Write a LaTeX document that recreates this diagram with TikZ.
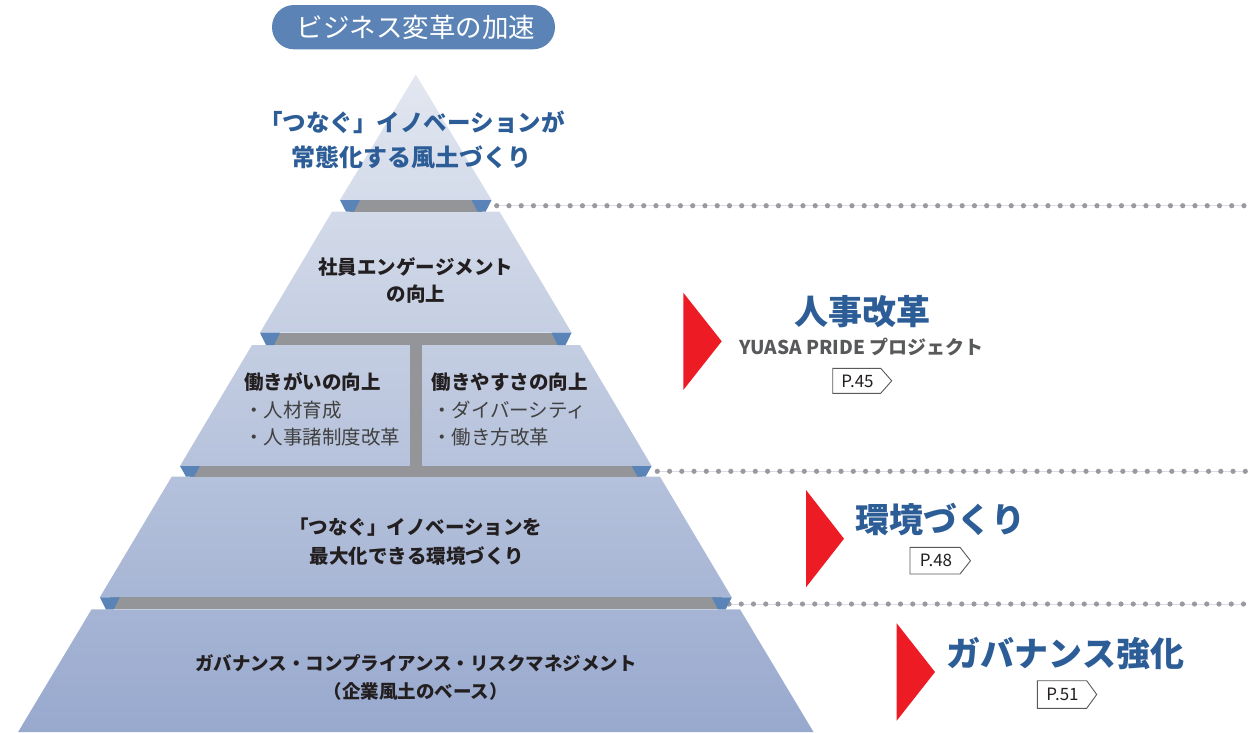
\documentclass[tikz,border=0pt]{standalone}
\usepackage{fontspec}
\setmainfont{Noto Sans CJK JP}
\definecolor{pillblue}{HTML}{5B83B5}
\definecolor{bandgray}{HTML}{939598}
\definecolor{edgeblue}{HTML}{5A84B8}
\definecolor{titleblue}{HTML}{2C5D97}
\definecolor{txtdark}{HTML}{231F20}
\definecolor{txtgray}{HTML}{404040}
\definecolor{subgray}{HTML}{58595B}
\definecolor{dotgray}{HTML}{9A9A9C}
\definecolor{dotline}{HTML}{D9DCEA}
\definecolor{markred}{HTML}{ED1C24}
\definecolor{pyrtop}{HTML}{E2E7F0}
\definecolor{pyrbot}{HTML}{98A9CE}
\newcommand\myfs[1]{\fontsize{#1pt}{#1pt}\selectfont}
\tikzset{
  txt/.style={inner sep=0pt, outer sep=0pt},
  lyhead/.style={txt, text=txtdark, font=\myfs{19.5}\bfseries},
  lyitem/.style={txt, text=txtgray, font=\myfs{19.5}},
  bigtitle/.style={txt, text=titleblue, font=\myfs{34}\bfseries},
  badge/.style={draw=subgray, line width=0.9pt, fill=white},
  badgetxt/.style={txt, text=txtdark, font=\myfs{17}},
  redmark/.style={fill=markred},
}
\begin{document}
\begin{tikzpicture}[x=1pt,y=-1pt]
\useasboundingbox (0,0) rectangle (1256,732);

% dotted guide lines (behind pyramid)
\foreach \sx/\sy/\n in {496.7/205.7/61, 657.3/471.3/48, 729/604/42} {
  \draw[dotline, line width=1pt] (\sx,\sy) -- ++(\n*12.25,0);
  \foreach \i in {0,...,\n} \fill[dotgray] (\sx+\i*12.25,\sy) circle (2.6pt);
}

% pyramid layers with one global gradient
\begin{scope}
\clip (415.8,74.5) -- (491.6,200) -- (340,200) -- cycle
      (332,211.7) -- (499.6,211.7) -- (571.6,332.7) -- (260,332.7) -- cycle
      (252,345) -- (580,345) -- (651.6,466) -- (180,466) -- cycle
      (171.7,476.7) -- (660,476.7) -- (731.7,597.3) -- (99.8,597.3) -- cycle
      (91.6,609.3) -- (740,609.3) -- (813.5,732) -- (18.1,732) -- cycle;
\shade[top color=pyrtop, bottom color=pyrbot] (0,74.5) rectangle (830,732);
\end{scope}

% separators
\foreach \ya/\yb/\h in {200/211.7/75.8, 332.7/345/155.8, 466/476.7/235.8, 597.3/609.3/316} {
  \fill[bandgray] (415.8-\h+10,\ya) rectangle (415.8+\h-10,\yb);
  \fill[edgeblue] (415.8-\h,\ya) -- (415.8-\h+20,\ya) -- (415.8-\h+14,\yb) -- (415.8-\h+6,\yb) -- cycle;
  \fill[edgeblue] (415.8+\h,\ya) -- (415.8+\h-20,\ya) -- (415.8+\h-14,\yb) -- (415.8+\h-6,\yb) -- cycle;
}
\fill[bandgray] (409.5,344) rectangle (421.5,467);

% top pill
\fill[pillblue, rounded corners=22pt] (272,5) rectangle (555,49.3);
\node[txt, text=white, font=\myfs{26.5}] (pill) at (416,27.5) {ビジネス変革の加速};

% layer 1
\node[txt, text=titleblue, font=\myfs{23.5}\bfseries] (l1a) at (412,122) {「つなぐ」イノベーションが};
\node[txt, text=titleblue, font=\myfs{24}\bfseries] (l1b) at (411.5,157) {常態化する風土づくり};

% layer 2
\node[lyhead] (l2a) at (415.8,267) {社員エンゲージメント};
\node[lyhead] (l2b) at (415.8,294.5) {の向上};

% layer 3
\node[lyhead, anchor=west] (l3lh) at (244,381.7) {働きがいの向上};
\node[lyitem, anchor=west] (l3l1) at (244,410) {・人材育成};
\node[lyitem, anchor=west] (l3l2) at (244,436.7) {・人事諸制度改革};
\node[lyhead, anchor=west] (l3rh) at (431.5,381.7) {働きやすさの向上};
\node[lyitem, anchor=west] (l3r1) at (432,410) {・ダイバーシティ};
\node[lyitem, anchor=west] (l3r2) at (432,436.7) {・働き方改革};

% layer 4
\node[lyhead] (l4a) at (415.8,527) {「つなぐ」イノベーションを};
\node[lyhead] (l4b) at (417,556) {最大化できる環境づくり};

% layer 5
\node[lyhead, font=\myfs{18.5}\bfseries] (l5a) at (416,663) {ガバナンス・コンプライアンス・リスクマネジメント};
\node[lyhead, font=\myfs{18.5}\bfseries] (l5b) at (415.8,691.5) {（企業風土のベース）};

% right side: 人事改革
\fill[redmark] (683.3,292.7) -- (721.7,341.3) -- (683.3,390) -- cycle;
\node[bigtitle] (t1) at (862,311.7) {人事改革};
\node[txt, text=subgray, font=\myfs{19}\bfseries] (t1s) at (861.5,346.7) {YUASA PRIDE プロジェクト};
\draw[badge] (832.7,368.3) -- (880.7,368.3) -- (891.7,380.8) -- (880.7,393.3) -- (832.7,393.3) -- cycle;
\node[badgetxt] (p45) at (857.5,381) {P.45};

% 環境づくり
\fill[redmark] (806,490) -- (844,538.7) -- (806,587.3) -- cycle;
\node[bigtitle] (t2) at (940.5,520) {環境づくり};
\draw[badge] (910,547.3) -- (960,547.3) -- (970.5,560.7) -- (960,574) -- (910,574) -- cycle;
\node[badgetxt] (p48) at (936,560.7) {P.48};

% ガバナンス強化
\fill[redmark] (896.7,623.3) -- (935,672) -- (896.7,720.7) -- cycle;
\node[bigtitle] (t3) at (1065.5,653.3) {ガバナンス強化};
\draw[badge] (1037.3,680.7) -- (1086.7,680.7) -- (1096.7,694.5) -- (1086.7,708.3) -- (1037.3,708.3) -- cycle;
\node[badgetxt] (p51) at (1062.5,694.5) {P.51};
\end{tikzpicture}
\end{document}
